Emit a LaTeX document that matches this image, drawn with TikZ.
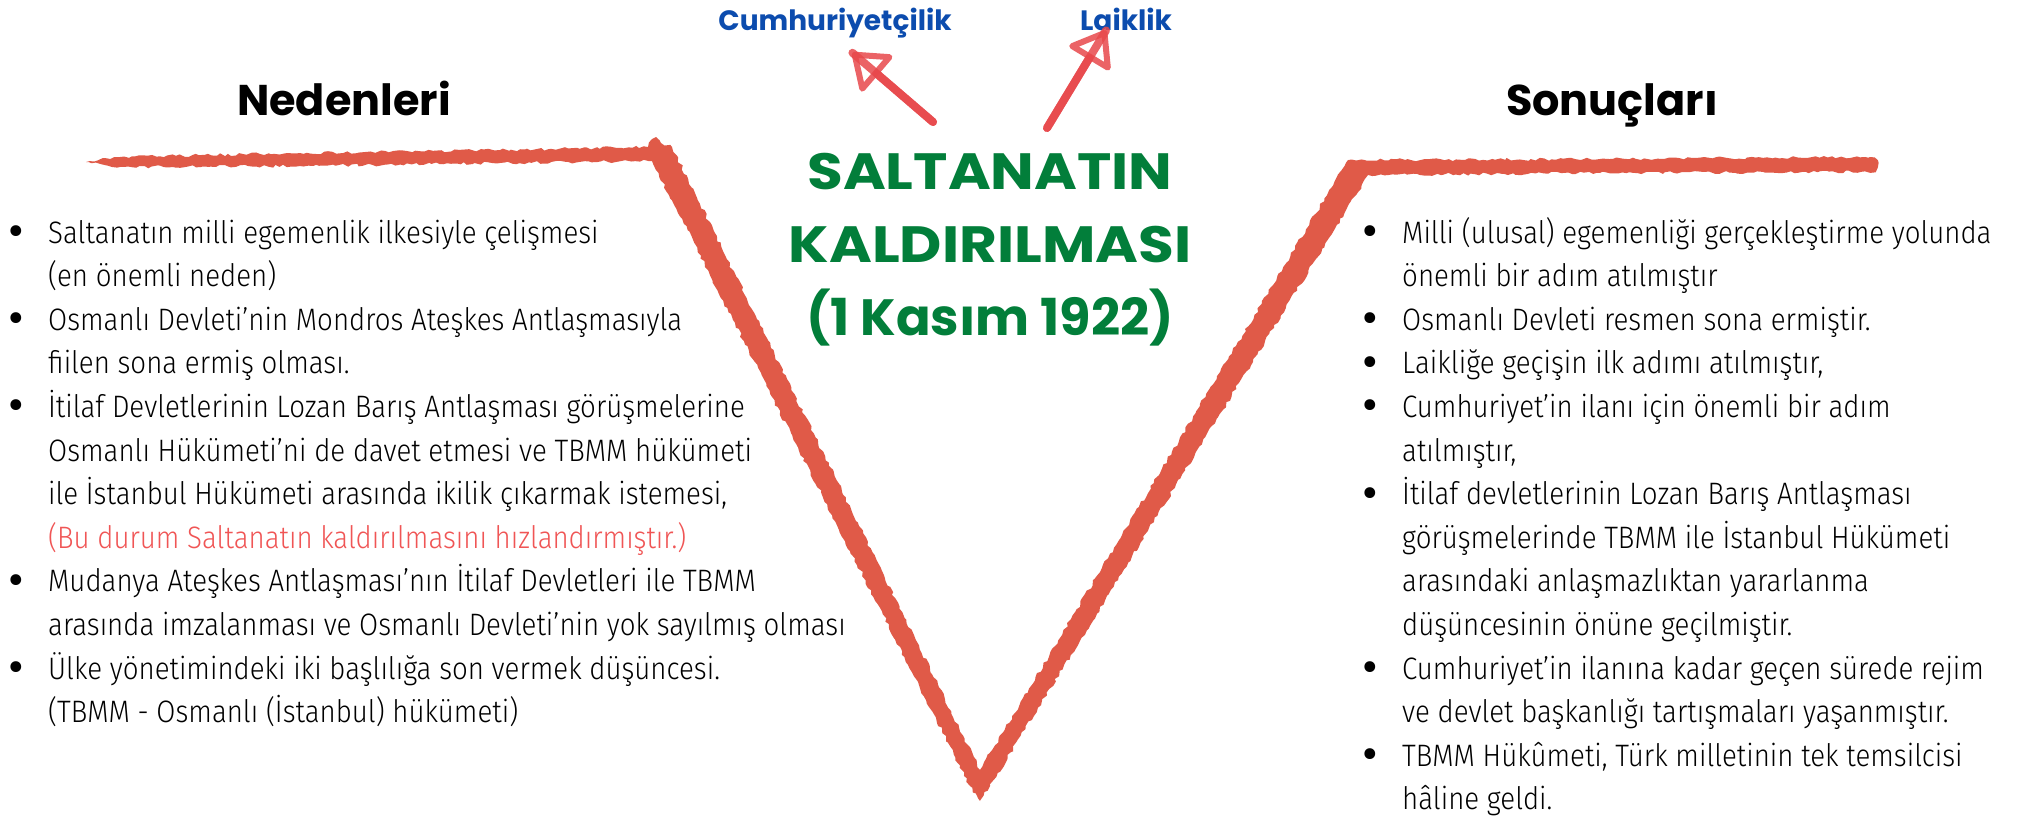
\documentclass[tikz,border=0pt]{standalone}
\usepackage{fontspec}
\setmainfont{Fira Sans}[UprightFont=* Light, FakeStretch=0.892]
\newfontfamily\headfont{Poppins}[UprightFont=* Bold]
\newfontfamily\titlewide{Poppins}[UprightFont=* Bold, FakeStretch=1.14]
\newfontfamily\bulfont{Fira Sans}
\usetikzlibrary{arrows.meta,decorations.pathmorphing}
\definecolor{brushred}{RGB}{224,90,72}
\definecolor{arrowred}{RGB}{232,72,76}
\definecolor{conceptblue}{RGB}{12,76,174}
\definecolor{titlegreen}{RGB}{2,126,58}
\definecolor{notered}{RGB}{240,85,85}
\newcommand{\bl}{\makebox[0pt][r]{\raisebox{-4.5pt}{\bulfont\fontsize{48}{48}\selectfont •}\hspace{24pt}}}
\newcommand{\listfont}{\fontsize{31}{43.6}\selectfont}
\begin{document}
\begin{tikzpicture}[x=1pt,y=-1pt,
  body/.style={font=\listfont, inner sep=0pt, anchor=base west, text=black},
  head/.style={font=\headfont\fontsize{43}{50}\selectfont, inner sep=0pt, anchor=base},
  concept/.style={font=\headfont\fontsize{28}{32}\selectfont, text=conceptblue, inner sep=0pt, anchor=base},
  titletext/.style={font=\headfont\fontsize{51}{73}\selectfont, text=titlegreen, align=center, inner sep=0pt},
  hand/.style={draw=arrowred, draw opacity=0.85, line width=8pt, line cap=round, line join=round},
  handtip/.style={-{Triangle[open,round,length=36pt,width=52pt,line width=6pt]}},
  brush/.style={fill=brushred, decorate, decoration={random steps, segment length=4pt, amplitude=1.5pt}}
]
\useasboundingbox (0,0) rectangle (2020,822);
\fill[white] (0,0) rectangle (2020,822);
\pgfmathsetseed{7}
% brush V shape
\fill[brush] (86,162) -- (120,157) -- (300,153) -- (500,150) -- (648,147)
  -- (652,139) -- (656,137) -- (661,143) -- (672,147)
  -- (980,770) -- (1348,160) -- (1600,159) -- (1870,157)
  .. controls (1880,157) and (1880,172) .. (1870,172)
  -- (1600,173) -- (1368,175) -- (990,786) -- (980,801) -- (970,786)
  -- (652,161) -- (500,163) -- (300,166) -- (120,167) -- cycle;

% headers
\node[head] (causes) at (344,115) {Nedenleri};
\node[head] (results) at (1612,115) {Sonuçları};

% concept labels
\node[concept] (cum) at (835,30) {Cumhuriyetçilik};
\node[concept] (laik) at (1126,30) {Laiklik};

% title
\node[titletext] (title) at (990,250) {{\titlewide SALTANATIN}\\{\titlewide KALDIRILMASI}\\(1 Kasım 1922)};

% arrows
\coordinate (ctail) at (933,122);
\coordinate (ltail) at (1047,128);
\draw[hand, handtip, shorten >=23pt] (ctail) -- (cum.south);
\draw[hand, shorten >=23pt] (ctail) -- (cum.south);
\draw[hand, handtip] (ltail) -- ([xshift=-20pt]laik.south);
\draw[hand] (ltail) -- ([xshift=-20pt]laik.south);

% left list
\node[body] (causelist) at (48,243) {\parbox[t]{900pt}{\listfont
\bl Saltanatın milli egemenlik ilkesiyle çelişmesi\\
(en önemli neden)\\
\bl Osmanlı Devleti'nin Mondros Ateşkes Antlaşmasıyla\\
fiilen sona ermiş olması.\\
\bl İtilaf Devletlerinin Lozan Barış Antlaşması görüşmelerine\\
Osmanlı Hükümeti'ni de davet etmesi ve TBMM hükümeti\\
ile İstanbul Hükümeti arasında ikilik çıkarmak istemesi,\\
\textcolor{notered}{(Bu durum Saltanatın kaldırılmasını hızlandırmıştır.)}\\
\bl Mudanya Ateşkes Antlaşması'nın İtilaf Devletleri ile TBMM\\
arasında imzalanması ve Osmanlı Devleti'nin yok sayılmış olması\\
\bl Ülke yönetimindeki iki başlılığa son vermek düşüncesi.\\
(TBMM - Osmanlı (İstanbul) hükümeti)}};

% right list
\node[body] (resultlist) at (1402,243) {\parbox[t]{900pt}{\listfont
\bl Milli (ulusal) egemenliği gerçekleştirme yolunda\\
önemli bir adım atılmıştır\\
\bl Osmanlı Devleti resmen sona ermiştir.\\
\bl Laikliğe geçişin ilk adımı atılmıştır,\\
\bl Cumhuriyet'in ilanı için önemli bir adım\\
atılmıştır,\\
\bl İtilaf devletlerinin Lozan Barış Antlaşması\\
görüşmelerinde TBMM ile İstanbul Hükümeti\\
arasındaki anlaşmazlıktan yararlanma\\
düşüncesinin önüne geçilmiştir.\\
\bl Cumhuriyet'in ilanına kadar geçen sürede rejim\\
ve devlet başkanlığı tartışmaları yaşanmıştır.\\
\bl TBMM Hükûmeti, Türk milletinin tek temsilcisi\\
hâline geldi.}};
\end{tikzpicture}
\end{document}
